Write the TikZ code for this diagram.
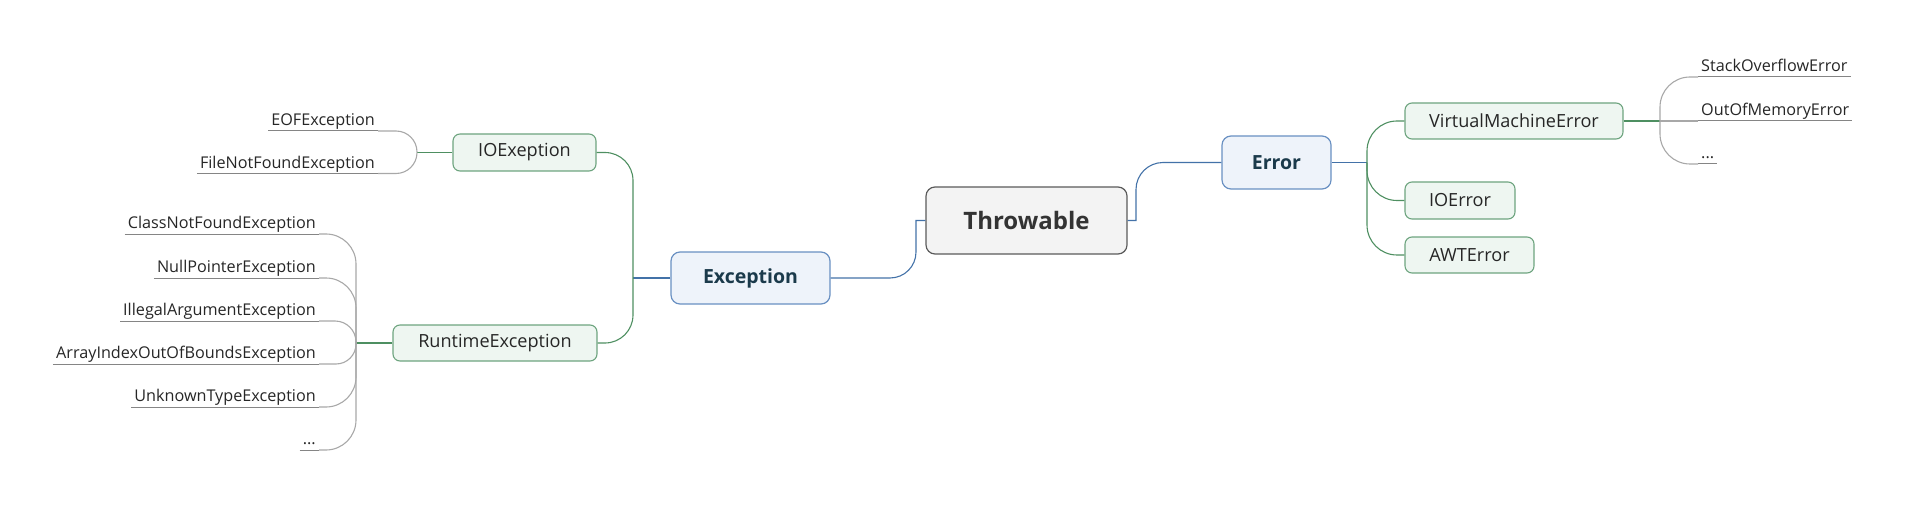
\documentclass[tikz,border=0pt]{standalone}
\usepackage{fontspec}
\setmainfont{Open Sans}
\definecolor{bluel}{HTML}{4372A8}
\definecolor{blueb}{HTML}{6990C2}
\definecolor{bluef}{HTML}{EEF3FA}
\definecolor{bluet}{HTML}{1B3A4B}
\definecolor{greenl}{HTML}{4E8F61}
\definecolor{greenb}{HTML}{6DA47F}
\definecolor{greenf}{HTML}{EEF6F1}
\definecolor{rootf}{HTML}{F3F3F3}
\definecolor{rootb}{HTML}{5A5A5A}
\definecolor{graycurve}{HTML}{A8A8A8}
\definecolor{grayline}{HTML}{858585}
\definecolor{txt}{HTML}{262626}
\definecolor{roott}{HTML}{333333}
\tikzset{
  rootbox/.style={draw=rootb, fill=rootf, line width=1.2pt, rounded corners=9pt, text=roott,
    font=\fontsize{24}{28}\selectfont\bfseries, minimum width=201pt, minimum height=67pt, inner sep=0pt},
  mainbox/.style={draw=blueb, fill=bluef, line width=1.2pt, rounded corners=9pt, text=bluet,
    font=\fontsize{19.5}{23}\selectfont\bfseries, inner sep=0pt},
  subbox/.style={draw=greenb, fill=greenf, line width=1.1pt, rounded corners=7pt, text=txt,
    font=\fontsize{18.1}{22}\selectfont, inner sep=0pt},
  leaf/.style={inner xsep=3pt, inner ysep=0pt, text depth=5pt, text=txt,
    font=\fontsize{16.2}{20}\selectfont},
  bline/.style={draw=bluel, line width=1.1pt},
  gline/.style={draw=greenl, line width=1.1pt},
  cline/.style={draw=graycurve, line width=1.1pt},
  uline/.style={draw=grayline, line width=1pt},
}
\begin{document}
\begin{tikzpicture}[x=1pt, y=-1pt]
\useasboundingbox (0,0) rectangle (1905,505);

% main nodes
\node[rootbox] (thr) at (1026.5,220.5) {Throwable};
\node[mainbox, minimum width=159pt, minimum height=52pt] (exc) at (750.5,278) {Exception};
\node[mainbox, minimum width=109pt, minimum height=53pt] (err) at (1276.5,162.5) {Error};

% sub nodes
\node[subbox, minimum width=143pt, minimum height=37pt] (ioe) at (524.5,152.5) {IOExeption};
\node[subbox, minimum width=204pt, minimum height=36pt] (rte) at (495,343) {RuntimeException};
\node[subbox, minimum width=218pt, minimum height=36pt] (vme) at (1514,121) {VirtualMachineError};
\node[subbox, minimum width=110pt, minimum height=37pt] (ioerr) at (1460,200.5) {IOError};
\node[subbox, minimum width=129pt, minimum height=36pt] (awt) at (1469.5,255) {AWTError};

% junctions
\coordinate (excj) at (633,278);
\coordinate (errj) at (1367,162.5);
\coordinate (ioej) at (417,152.5);
\coordinate (rtej) at (356,343);
\coordinate (vmej) at (1660,121);

% root connectors
\draw[bline] (exc.east) -- (890,278) .. controls (904.4,278) and (916,266.4) .. (916,252)
  -- (916,220.5) -- (thr.west);
\draw[bline] (thr.east) -- (1136,220.5) -- (1136,189.5)
  .. controls (1136,174.6) and (1148.1,162.5) .. (1163,162.5) -- (err.west);

% exception branch
\draw[bline] (exc.west) -- (excj);
\draw[gline, rounded corners=28pt] (excj) |- (ioe.east);
\draw[gline, rounded corners=28pt] (excj) |- (rte.east);

% error branch
\draw[bline] (err.east) -- (errj);
\draw[gline, rounded corners=30pt] (errj) |- (vme.west);
\draw[gline, rounded corners=30pt] (errj) |- (ioerr.west);
\draw[gline, rounded corners=30pt] (errj) |- (awt.west);

% IOExeption leaves
\draw[gline] (ioe.west) -- (ioej);
\node[leaf, anchor=south east] (eof) at (378,131) {EOFException};
\node[leaf, anchor=south east] (fnf) at (378,173.5) {FileNotFoundException};
\foreach \n in {eof,fnf} \draw[uline] (\n.south west) -- (\n.south east);
\draw[cline, rounded corners=21pt] (eof.south east) -| (ioej);
\draw[cline, rounded corners=21pt] (fnf.south east) -| (ioej);

% RuntimeException leaves
\draw[gline] (rte.west) -- (rtej);
\node[leaf, anchor=south east] (cnf) at (319,234) {ClassNotFoundException};
\node[leaf, anchor=south east] (npe) at (319,278) {NullPointerException};
\node[leaf, anchor=south east] (iae) at (319,321) {IllegalArgumentException};
\node[leaf, anchor=south east] (aio) at (319,364) {ArrayIndexOutOfBoundsException};
\node[leaf, anchor=south east] (ute) at (319,407) {UnknownTypeException};
\node[leaf, anchor=south east] (rdots) at (319,450) {...};
\foreach \n in {cnf,npe,iae,aio,ute,rdots} \draw[uline] (\n.south west) -- (\n.south east);
\draw[cline, rounded corners=30pt] (cnf.south east) -| (rtej);
\draw[cline, rounded corners=30pt] (npe.south east) -| (rtej);
\draw[cline, rounded corners=21pt] (iae.south east) -| (rtej);
\draw[cline, rounded corners=20pt] (aio.south east) -| (rtej);
\draw[cline, rounded corners=30pt] (ute.south east) -| (rtej);
\draw[cline, rounded corners=30pt] (rdots.south east) -| (rtej);

% VirtualMachineError leaves
\draw[gline] (vme.east) -- (vmej);
\node[leaf, anchor=south west] (soe) at (1698,77) {StackOverflowError};
\node[leaf, anchor=south west] (oom) at (1698,121) {OutOfMemoryError};
\node[leaf, anchor=south west] (vdots) at (1698,164) {...};
\foreach \n in {soe,oom,vdots} \draw[uline] (\n.south west) -- (\n.south east);
\draw[cline, rounded corners=30pt] (soe.south west) -| (vmej);
\draw[cline] (oom.south west) -- (vmej);
\draw[cline, rounded corners=30pt] (vdots.south west) -| (vmej);
\end{tikzpicture}
\end{document}
